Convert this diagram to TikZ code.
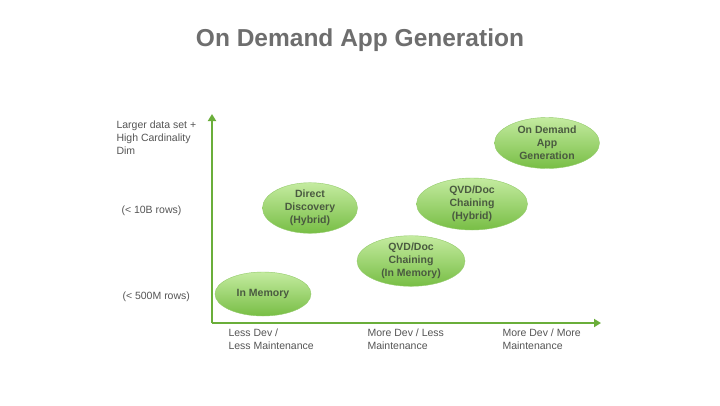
\documentclass[tikz,border=0pt]{standalone}
\usepackage{fontspec}
\setmainfont{Liberation Sans}
\usetikzlibrary{shapes.geometric,arrows.meta}
\definecolor{axisg}{HTML}{6AAE3A}
\definecolor{txtg}{HTML}{555555}
\definecolor{eltxt}{HTML}{4A5A40}
\definecolor{gtop}{HTML}{C4EBA0}
\definecolor{gbot}{HTML}{78BE45}
\tikzset{
  blob/.style={ellipse,inner sep=0pt,top color=gtop,bottom color=gbot,draw=gbot!80!white,
    text=eltxt,font=\bfseries\fontsize{10.5}{13}\selectfont,align=center},
  lbl/.style={text=txtg,font=\fontsize{10.5}{13}\selectfont,align=left,anchor=north west},
  axis/.style={draw=axisg,line width=2.4pt,-{Triangle[length=7pt,width=8pt]}}
}
\begin{document}
\begin{tikzpicture}[x=1pt,y=-1pt]
\useasboundingbox[fill=white] (0,0) rectangle (720,405);
\node[text=txtg!85!white,font=\bfseries\fontsize{24.5}{26}\selectfont] (title) at (360,40) {On Demand App Generation};
\coordinate (o) at (212,323);
\coordinate (ytop) at (212,114);
\coordinate (xend) at (601,323);
\draw[axis] (o) -- (ytop);
\draw[axis] (o) -- (xend);
\node[blob,minimum width=96,minimum height=44] (mem) at (263,294) {In Memory};
\node[blob,minimum width=95,minimum height=48] (dd) at (310,208) {Direct\\Discovery\\(Hybrid)};
\node[blob,minimum width=111,minimum height=52] (qh) at (472,204) {QVD/Doc\\Chaining\\(Hybrid)};
\node[blob,minimum width=108,minimum height=50] (qm) at (411,261) {QVD/Doc\\Chaining\\(In Memory)};
\node[blob,minimum width=105,minimum height=51] (od) at (547,143) {On Demand\\App\\Generation};
\node[lbl] (l1) at (113,117) {Larger data set +\\High Cardinality\\Dim};
\node[lbl] (l2) at (118,202) {(< 10B rows)};
\node[lbl] (l3) at (119,288) {(< 500M rows)};
\node[lbl] (b1) at (225,325) {Less Dev /\\Less Maintenance};
\node[lbl] (b2) at (364,325) {More Dev / Less\\Maintenance};
\node[lbl] (b3) at (499,325) {More Dev / More\\Maintenance};
\end{tikzpicture}
\end{document}
